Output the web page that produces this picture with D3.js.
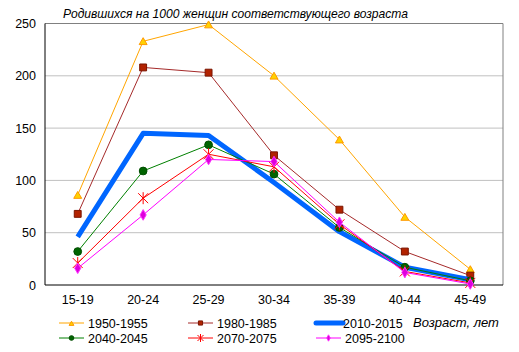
<!DOCTYPE html>
<html>
<head>
<meta charset="utf-8">
<script src="https://cdn.jsdelivr.net/npm/d3@7"></script>
<style>
  body { margin: 0; background: #fff; }
  text { font-family: "Liberation Sans", Arial, sans-serif; }
</style>
</head>
<body>
<div id="chart"></div>
<script>
// age groups and births per 1000 women
const ageGroups = ["15-19", "20-24", "25-29", "30-34", "35-39", "40-44", "45-49"];
const yTicks = [0, 50, 100, 150, 200, 250];
const seriesNames = ["1950-1955", "1980-1985", "2010-2015", "2040-2045", "2070-2075", "2095-2100"];
const v1950 = [86, 233, 249, 200, 139, 65, 15];
const v1980 = [68, 208, 203, 124, 72, 32, 9];
const v2010 = [46, 145, 143, 98, 51, 17, 5];
const v2040 = [32, 109, 134, 106, 55, 17, 4];
const v2070 = [21, 83, 125, 113, 58, 13, 2];
const v2095 = [16, 67, 120, 118, 60, 12, 1];

const styles = [
  { line: "#ffa500", width: 1, marker: "triangle", fill: "#ffd200", stroke: "#ff9900" },
  { line: "#a52a2a", width: 1, marker: "square", fill: "#b22200", stroke: "#7a1500" },
  { line: "#0066ff", width: 5, marker: null },
  { line: "#008000", width: 1, marker: "circle", fill: "#006400", stroke: "#004d00" },
  { line: "#ff0000", width: 1, marker: "asterisk", stroke: "#ff0000" },
  { line: "#ff00ff", width: 1, marker: "diamond", fill: "#dd00dd", stroke: "#ff33ff" }
];
const series = [v1950, v1980, v2010, v2040, v2070, v2095].map((values, i) => ({
  name: seriesNames[i], values, style: styles[i]
}));

const width = 519, height = 352;
const margin = { top: 23.5, right: 16, bottom: 67, left: 45 };

const svg = d3.select("#chart").append("svg")
  .attr("width", width).attr("height", height);

const x = d3.scaleBand().domain(ageGroups).range([margin.left, width - margin.right]);
const y = d3.scaleLinear().domain([0, 250]).range([height - margin.bottom, margin.top]);
const cx = d => x(d) + x.bandwidth() / 2;

// gridlines
svg.append("g")
  .selectAll("line")
  .data(yTicks.filter(t => t > 0 && t < 250))
  .join("line")
  .attr("x1", margin.left).attr("x2", width - margin.right)
  .attr("y1", d => y(d)).attr("y2", d => y(d))
  .attr("stroke", "#c0c0c0").attr("stroke-width", 1);

// frame: top and right grey, left and bottom black
svg.append("line")
  .attr("x1", margin.left).attr("x2", width - margin.right)
  .attr("y1", y(250)).attr("y2", y(250))
  .attr("stroke", "#808080");
svg.append("line")
  .attr("x1", width - margin.right).attr("x2", width - margin.right)
  .attr("y1", y(250)).attr("y2", y(0))
  .attr("stroke", "#808080");

// y axis labels
svg.append("g")
  .selectAll("text")
  .data(yTicks)
  .join("text")
  .attr("x", 36).attr("y", d => y(d) + 4.5)
  .attr("text-anchor", "end")
  .attr("font-size", 12.5)
  .text(d => d);

// x axis labels
svg.append("g")
  .selectAll("text")
  .data(ageGroups)
  .join("text")
  .attr("x", d => cx(d)).attr("y", 304)
  .attr("text-anchor", "middle")
  .attr("font-size", 12.5)
  .text(d => d);

svg.append("line")
  .attr("x1", margin.left).attr("x2", margin.left)
  .attr("y1", y(250)).attr("y2", y(0))
  .attr("stroke", "#000");
svg.append("line")
  .attr("x1", margin.left).attr("x2", width - margin.right)
  .attr("y1", y(0)).attr("y2", y(0))
  .attr("stroke", "#000");

// markers
function drawMarker(g, type, s, px, py, size) {
  if (!type) return;
  if (type === "asterisk") {
    const r = size;
    g.append("path")
      .attr("d", `M${px - r},${py - r}L${px + r},${py + r}M${px - r},${py + r}L${px + r},${py - r}M${px},${py - r - 1}L${px},${py + r + 1}`)
      .attr("stroke", s.stroke).attr("stroke-width", 1).attr("fill", "none");
    return;
  }
  const symType = {
    triangle: d3.symbolTriangle, square: d3.symbolSquare,
    circle: d3.symbolCircle, diamond: d3.symbolDiamond
  }[type];
  const area = { triangle: size * size * 1.1, square: size * size * 1.9, circle: size * size * 1.9, diamond: size * size * 1.3 }[type];
  g.append("path")
    .attr("d", d3.symbol().type(symType).size(area)())
    .attr("transform", `translate(${px},${py + (type === "triangle" ? 1 : 0)})`)
    .attr("fill", s.fill).attr("stroke", s.stroke).attr("stroke-width", 1);
}

const line = d3.line()
  .x((d, i) => cx(ageGroups[i]))
  .y(d => y(d));

series.forEach(s => {
  const g = svg.append("g");
  g.append("path")
    .attr("d", line(s.values))
    .attr("fill", "none")
    .attr("stroke", s.style.line)
    .attr("stroke-width", s.style.width)
    .attr("stroke-linejoin", "round");
  s.values.forEach((v, i) => drawMarker(g, s.style.marker, s.style, cx(ageGroups[i]), y(v), 5));
});

// title
svg.append("text")
  .attr("x", 63).attr("y", 18)
  .attr("font-size", 13)
  .attr("font-style", "italic")
  .attr("textLength", 345)
  .attr("lengthAdjust", "spacingAndGlyphs")
  .text("Родившихся на 1000 женщин соответствующего возраста");

// legend
const legendPos = [
  [59, 323], [188, 323], [316, 323],
  [59, 338], [188, 338], [316, 338]
];
series.forEach((s, i) => {
  const [lx, ly] = legendPos[i];
  const g = svg.append("g");
  g.append("line")
    .attr("x1", lx).attr("x2", lx + (s.style.width > 1 ? 27 : 25))
    .attr("y1", ly).attr("y2", ly)
    .attr("stroke", s.style.line)
    .attr("stroke-width", s.style.width)
    .attr("stroke-linecap", s.style.width > 1 ? "round" : "butt");
  drawMarker(g, s.style.marker, s.style, lx + 12.5, ly, 3);
  g.append("text")
    .attr("x", lx + (s.style.width > 1 ? 27 : 29)).attr("y", ly + 4.5)
    .attr("font-size", 12.5)
    .text(s.name);
});

svg.append("text")
  .attr("x", 413).attr("y", 327)
  .attr("font-size", 13)
  .attr("font-style", "italic")
  .text("Возраст, лет");
</script>
</body>
</html>
